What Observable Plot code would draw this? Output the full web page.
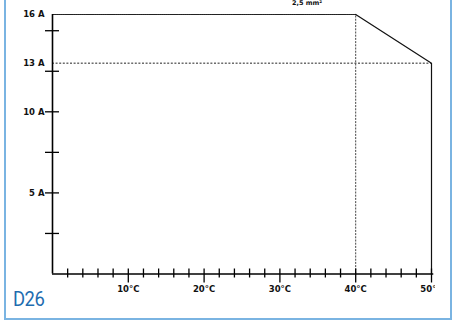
<!DOCTYPE html>
<html>
<head>
<meta charset="utf-8">
<script src="https://cdn.jsdelivr.net/npm/d3@7"></script>
<script src="https://cdn.jsdelivr.net/npm/@observablehq/plot@0.6"></script>
<style>
  html, body { margin: 0; padding: 0; background: #fff; }
  #wrap { position: relative; width: 454px; height: 326px; overflow: hidden; background: #fff; }
  #frame { position: absolute; left: 4px; top: -10px; width: 444px; height: 326px; border: 2px solid #7ab4e2; box-sizing: content-box; }
  #chart { position: absolute; left: 0; top: 0; }
  #tag { position: absolute; left: 13px; top: 287px; font-family: Roboto, sans-serif; font-size: 20px; color: #1f6db0; letter-spacing: -0.5px; transform: scaleX(0.92); transform-origin: left; }
  #title { position: absolute; left: 292px; top: -1px; font-family: "DejaVu Sans", sans-serif; font-size: 6.5px; font-weight: bold; color: #111; }
</style>
</head>
<body>
<div id="wrap">
  <div id="frame"></div>
  <div id="chart"></div>
  <div id="tag">D26</div>
  <div id="title">2,5 mm²</div>
</div>
<script>
// Temperature (°C) and current (A)
const flatTemps = [0, 40];
const flatAmps = [16, 16];
const derateTemps = [40, 50, 50];
const derateAmps = [16, 13, 0];
const refAmp = 13;      // dotted horizontal reference
const refTemp = 40;     // dotted vertical reference
const xMinorTicks = d3.range(2, 51, 2).filter(d => d % 10 !== 0);
const xMajorTicks = [10, 20, 30, 40, 50];
const yTicks = [2.5, 5, 7.5, 10, 12.5, 15];
const yLabels = [5, 10, 13, 16];

const flat = flatTemps.map((t, i) => ({t, a: flatAmps[i]}));
const derate = derateTemps.map((t, i) => ({t, a: derateAmps[i]}));

const plot = Plot.plot({
  width: 435,
  height: 326,
  marginLeft: 52,
  marginRight: 4,
  marginTop: 14,
  marginBottom: 52.5,
  style: { overflow: "hidden", fontFamily: "DejaVu Sans, sans-serif", fontWeight: "bold", fontSize: "8.5px", background: "transparent", color: "#111" },
  x: { domain: [0, 50], label: null },
  y: { domain: [0, 16], label: null },
  marks: [
    // dotted reference lines
    Plot.ruleY([refAmp], { x1: 0, x2: 50, stroke: "#222", strokeWidth: 1, strokeDasharray: "2,1.6" }),
    Plot.ruleX([refTemp], { y1: 0, y2: 16, stroke: "#444", strokeWidth: 1, strokeDasharray: "2,1.2" }),
    // curve
    Plot.line(flat, { x: "t", y: "a", stroke: "#222", strokeWidth: 1.1, strokeDasharray: "1.5,0.6" }),
    Plot.line(derate, { x: "t", y: "a", stroke: "#111", strokeWidth: 1.2 }),
    // axes lines
    Plot.ruleX([0], { y1: 0, y2: 16, stroke: "#000", strokeWidth: 1.6 }),
    Plot.ruleY([0], { x1: 0, x2: 50.3, stroke: "#000", strokeWidth: 1.6 }),
    // x ticks
    Plot.axisX({ ticks: xMinorTicks, tickSize: 9, dy: -5, text: null, label: null, stroke: "#000", strokeWidth: 1.3 }),
    Plot.axisX({ ticks: xMajorTicks, tickSize: 14, dy: -5, text: null, label: null, stroke: "#000", strokeWidth: 1.3 }),
    Plot.axisX({ ticks: xMajorTicks, tickSize: 0, tickPadding: 12, tickFormat: d => d + "°C", label: null }),
    // y ticks
    Plot.axisY({ ticks: yTicks, tickSize: 14, dx: 7, text: null, label: null, stroke: "#000", strokeWidth: 1.3 }),
    Plot.axisY({ ticks: yLabels, tickSize: 0, tickPadding: 8, tickFormat: d => d + " A", label: null })
  ]
});
document.getElementById("chart").appendChild(plot);
</script>
</body>
</html>
